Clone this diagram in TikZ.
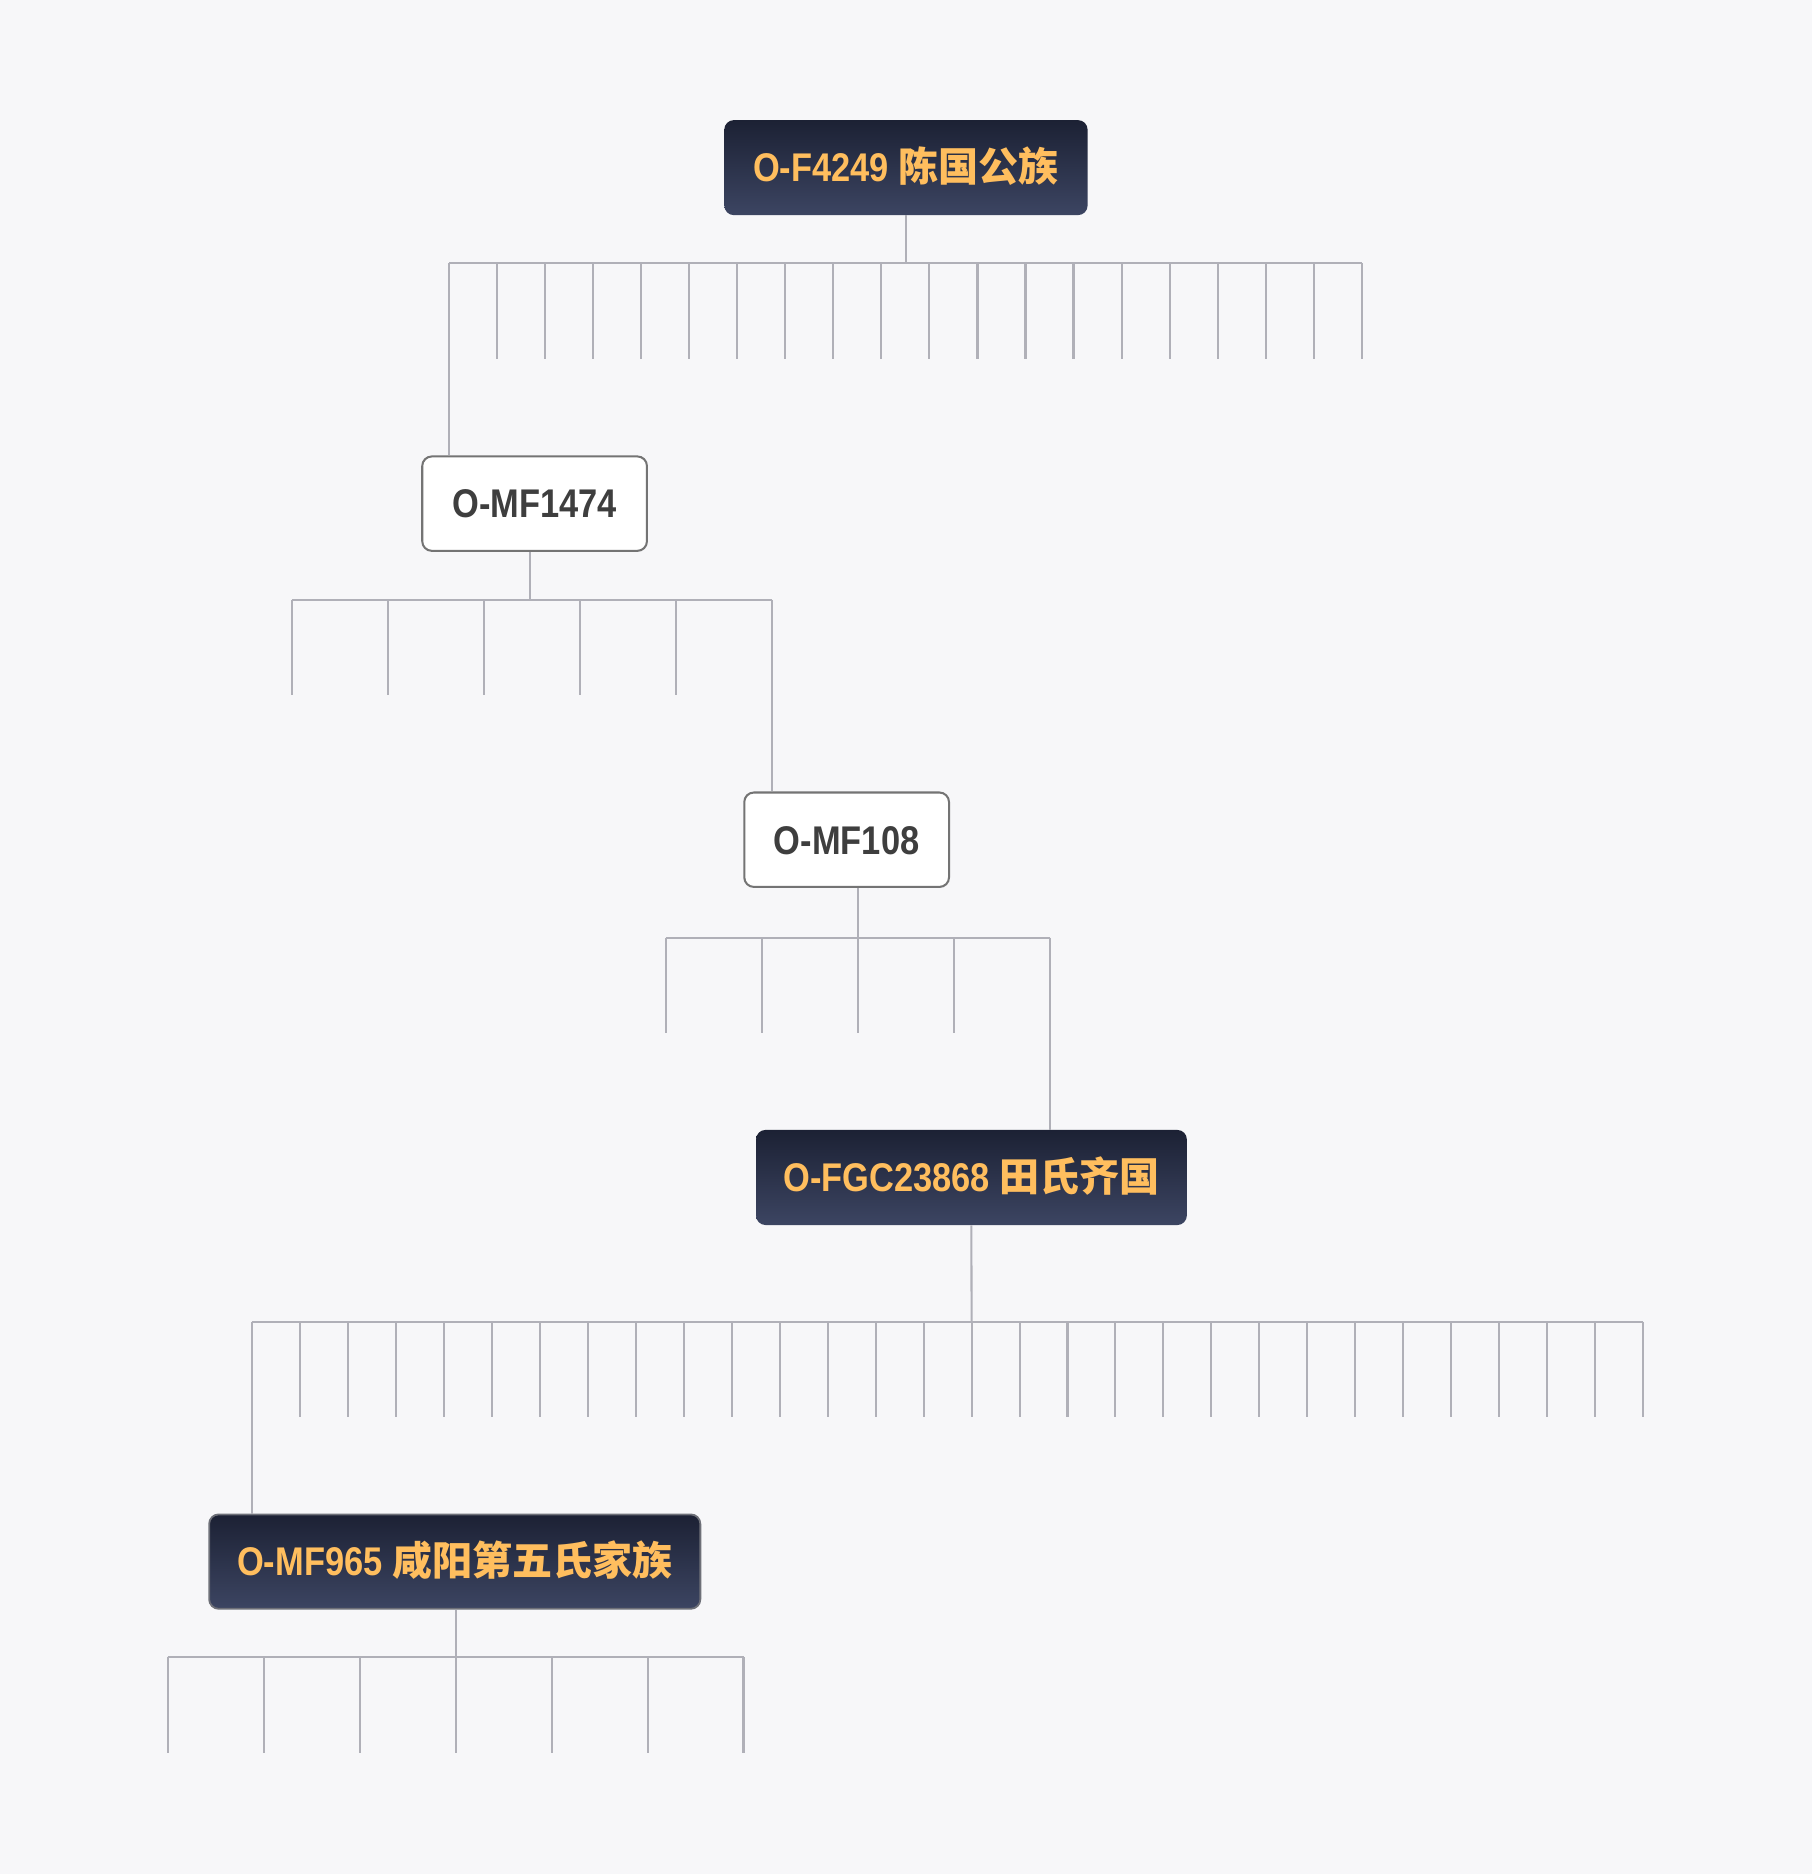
\documentclass[tikz,border=0pt]{standalone}
\usepackage{fontspec}
\newfontfamily\latfont{Liberation Sans}[FakeStretch=0.86]
\newfontfamily\cjkfont{Noto Sans CJK SC}
\definecolor{bgc}{HTML}{F7F7F9}
\definecolor{linec}{HTML}{B0B0B8}
\definecolor{dtop}{HTML}{1C2134}
\definecolor{dbot}{HTML}{3C4562}
\definecolor{orangec}{HTML}{FFBE5E}
\definecolor{lborder}{HTML}{747474}
\definecolor{ltext}{HTML}{3E3E3E}
\definecolor{n5border}{HTML}{6E7078}
\tikzset{
  conn/.style={draw=linec, line width=1.7pt},
  basenode/.style={rounded corners=8pt, inner sep=0pt, text height=24pt, text depth=0pt,
    font=\fontsize{33.5}{40}\selectfont\bfseries},
  darknode/.style={basenode, top color=dtop, bottom color=dbot, text=orangec},
  lightnode/.style={basenode, fill=white, draw=lborder, line width=1.7pt, text=ltext},
}
\newcommand\lbl[2]{{\latfont #1\space}{\cjkfont #2}}
\begin{document}
\begin{tikzpicture}[x=1pt,y=-1pt]
\fill[bgc] (0,0) rectangle (1516,1568);
\useasboundingbox (0,0) rectangle (1516,1568);

% nodes
\node[darknode, minimum width=304pt, minimum height=79.5pt] (n1) at (758,140.25) {\lbl{O-F4249}{陈国公族}};
\node[lightnode, minimum width=188pt, minimum height=79pt] (n2) at (447.3,421.4) {\latfont O-MF1474};
\node[lightnode, minimum width=171.3pt, minimum height=79pt] (n3) at (708.4,702.6) {\latfont O-MF108};
\node[darknode, minimum width=360.5pt, minimum height=79.6pt] (n4) at (812.8,985.2) {\lbl{O-FGC23868}{田氏齐国}};
\node[darknode, draw=n5border, line width=1.5pt, minimum width=411pt, minimum height=79pt] (n5) at (380.5,1306.6) {\lbl{O-MF965}{咸阳第五氏家族}};

% level 1 bus
\coordinate (c1) at (758,220.3);
\coordinate (b1l) at (376,220.3);
\coordinate (b1r) at (1139.2,220.3);
\draw[conn] (n1.south) -- (c1);
\draw[conn] (b1l) -- (b1r);
\foreach \k in {1,...,19} \draw[conn] (376+40.17*\k,220.3) -- ++(0,80);
\draw[conn] (b1l) -- (b1l |- n2.north);

% level 2 bus
\coordinate (c2) at (443.4,502);
\coordinate (b2l) at (244.3,502);
\coordinate (b2r) at (646,502);
\draw[conn] (n2.south -| c2) -- (c2);
\draw[conn] (b2l) -- (b2r);
\foreach \k in {0,...,4} \draw[conn] (244.3+80.35*\k,502) -- ++(0,79.5);
\draw[conn] (b2r) -- (b2r |- n3.north);

% level 3 bus
\coordinate (c3) at (717.8,784.5);
\coordinate (b3l) at (557.2,784.5);
\coordinate (b3r) at (878.2,784.5);
\draw[conn] (n3.south -| c3) -- (c3);
\draw[conn] (b3l) -- (b3r);
\foreach \k in {0,...,3} \draw[conn] (557.2+80.25*\k,784.5) -- ++(0,80);
\draw[conn] (b3r) -- (b3r |- n4.north);

% level 4 bus
\coordinate (c4) at (812.9,1106);
\coordinate (b4l) at (210.8,1106);
\coordinate (b4r) at (1374.9,1106);
\draw[conn] (n4.south) -- (c4);
\draw[conn] (b4l) -- (b4r);
\foreach \k in {1,...,29} \draw[conn] (210.8+40.14*\k,1106) -- ++(0,79.7);
\draw[conn] (b4l) -- (b4l |- n5.north);

% level 5 bus
\coordinate (c5) at (381.5,1386.8);
\coordinate (b5l) at (140.3,1386.8);
\coordinate (b5r) at (622.1,1386.8);
\draw[conn] (n5.south -| c5) -- (c5);
\draw[conn] (b5l) -- (b5r);
\foreach \k in {0,...,6} \draw[conn] (140.3+80.3*\k,1386.8) -- ++(0,80.1);
\end{tikzpicture}
\end{document}
